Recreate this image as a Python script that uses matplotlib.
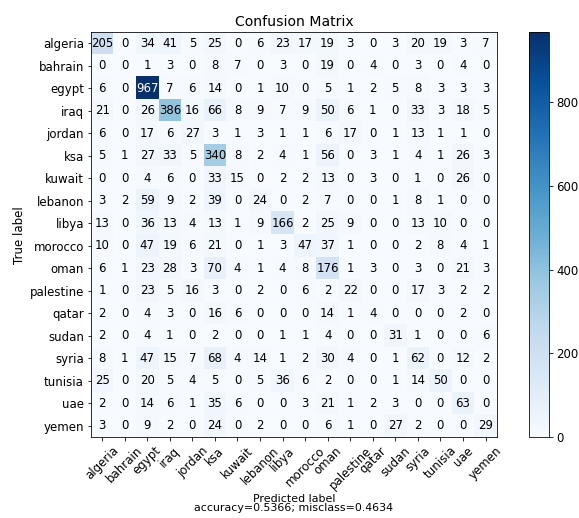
import itertools
import numpy as np
import matplotlib
matplotlib.use("Agg")
import matplotlib.pyplot as plt

labels = ['algeria', 'bahrain', 'egypt', 'iraq', 'jordan', 'ksa', 'kuwait',
          'lebanon', 'libya', 'morocco', 'oman', 'palestine', 'qatar', 'sudan',
          'syria', 'tunisia', 'uae', 'yemen']

algeria   = [205, 0, 34, 41, 5, 25, 0, 6, 23, 17, 19, 3, 0, 3, 20, 19, 3, 7]
bahrain   = [0, 0, 1, 3, 0, 8, 7, 0, 3, 0, 19, 0, 4, 0, 3, 0, 4, 0]
egypt     = [6, 0, 967, 7, 6, 14, 0, 1, 10, 0, 5, 1, 2, 5, 8, 3, 3, 3]
iraq      = [21, 0, 26, 386, 16, 66, 8, 9, 7, 9, 50, 6, 1, 0, 33, 3, 18, 5]
jordan    = [6, 0, 17, 6, 27, 3, 1, 3, 1, 1, 6, 17, 0, 1, 13, 1, 1, 0]
ksa       = [5, 1, 27, 33, 5, 340, 8, 2, 4, 1, 56, 0, 3, 1, 4, 1, 26, 3]
kuwait    = [0, 0, 4, 6, 0, 33, 15, 0, 2, 2, 13, 0, 3, 0, 1, 0, 26, 0]
lebanon   = [3, 2, 59, 9, 2, 39, 0, 24, 0, 2, 7, 0, 0, 1, 8, 1, 0, 0]
libya     = [13, 0, 36, 13, 4, 13, 1, 9, 166, 2, 25, 9, 0, 0, 13, 10, 0, 0]
morocco   = [10, 0, 47, 19, 6, 21, 0, 1, 3, 47, 37, 1, 0, 0, 2, 8, 4, 1]
oman      = [6, 1, 23, 28, 3, 70, 4, 1, 4, 8, 176, 1, 3, 0, 3, 0, 21, 3]
palestine = [1, 0, 23, 5, 16, 3, 0, 2, 0, 6, 2, 22, 0, 0, 17, 3, 2, 2]
qatar     = [2, 0, 4, 3, 0, 16, 6, 0, 0, 0, 14, 1, 4, 0, 0, 0, 2, 0]
sudan     = [2, 0, 4, 1, 0, 2, 0, 0, 1, 1, 4, 0, 0, 31, 1, 0, 0, 6]
syria     = [8, 1, 47, 15, 7, 68, 4, 14, 1, 2, 30, 4, 0, 1, 62, 0, 12, 2]
tunisia   = [25, 0, 20, 5, 4, 5, 0, 5, 36, 6, 2, 0, 0, 1, 14, 50, 0, 0]
uae       = [2, 0, 14, 6, 1, 35, 6, 0, 0, 3, 21, 1, 2, 3, 0, 0, 63, 0]
yemen     = [3, 0, 9, 2, 0, 24, 0, 2, 0, 0, 6, 1, 0, 27, 2, 0, 0, 29]

cm = np.array([algeria, bahrain, egypt, iraq, jordan, ksa, kuwait, lebanon,
               libya, morocco, oman, palestine, qatar, sudan, syria, tunisia,
               uae, yemen])

accuracy = np.trace(cm) / float(np.sum(cm))
misclass = 1 - accuracy

plt.rcParams['font.size'] = 11.7

fig = plt.figure(figsize=(579 / 72, 518 / 72), dpi=72)
ax = fig.add_axes([0.157, 0.156, 0.701, 0.782])
cax = fig.add_axes([0.914, 0.156, 0.0345, 0.782])

im = ax.imshow(cm, interpolation='nearest', cmap=plt.get_cmap('Blues'), aspect='auto')
ax.set_title('Confusion Matrix', fontsize=14)
fig.colorbar(im, cax=cax)

ticks = np.arange(len(labels))
ax.set_xticks(ticks)
ax.set_xticklabels(labels, rotation=45)
ax.set_yticks(ticks)
ax.set_yticklabels(labels)

thresh = cm.max() / 2
for i, j in itertools.product(range(cm.shape[0]), range(cm.shape[1])):
    ax.text(j, i, "{:,}".format(cm[i, j]),
            horizontalalignment="center", verticalalignment="center",
            color="white" if cm[i, j] > thresh else "black")

ax.set_ylabel('True label')
ax.set_xlabel('Predicted label\naccuracy={:0.4f}; misclass={:0.4f}'.format(accuracy, misclass),
              fontsize=11, linespacing=0.95, labelpad=2)

fig.savefig('out.png', dpi=72)
